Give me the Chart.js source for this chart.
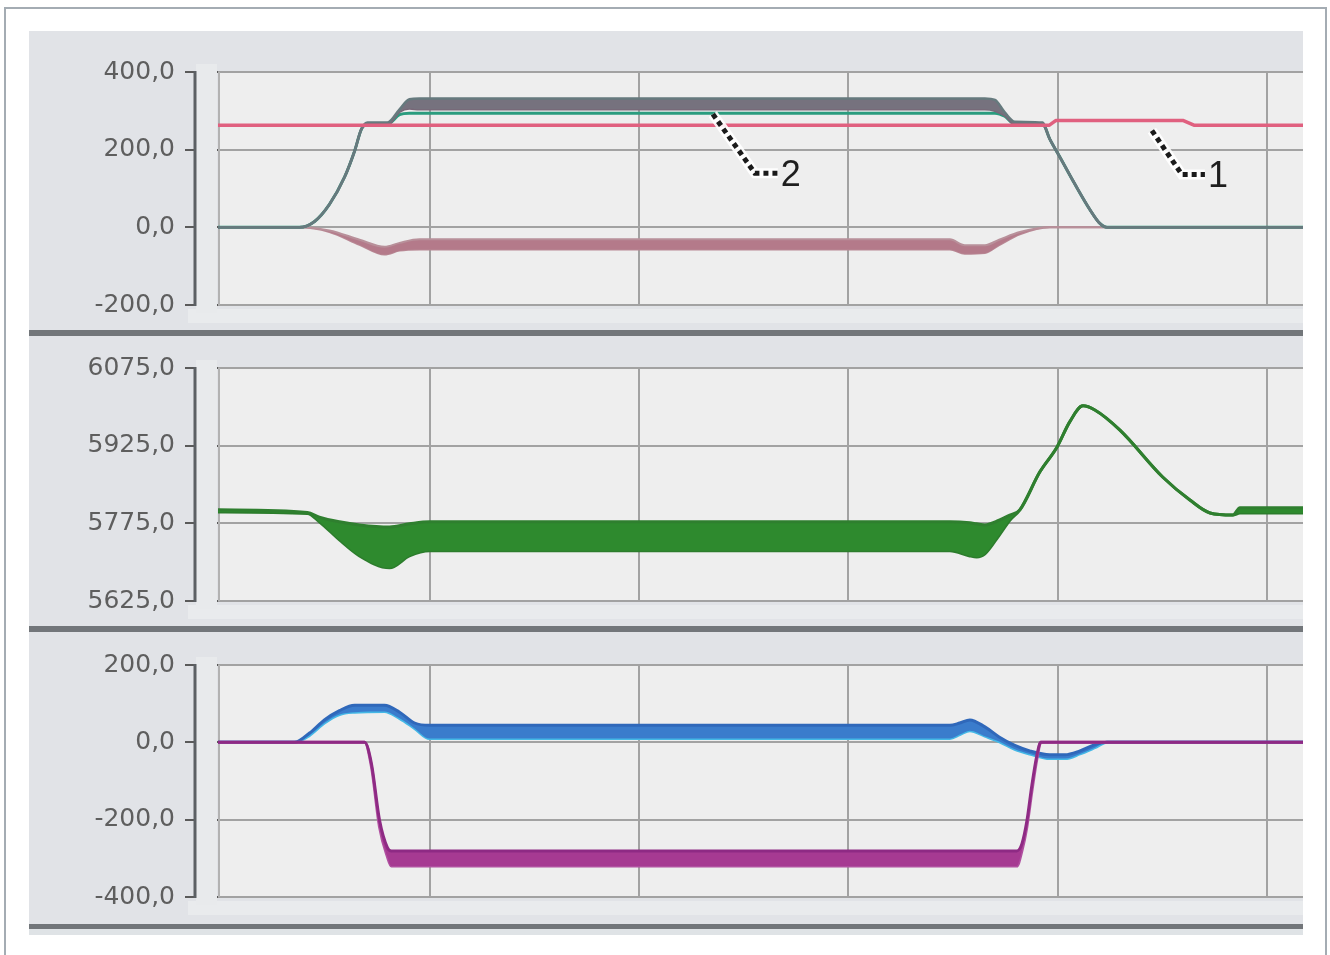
<!DOCTYPE html>
<html><head><meta charset="utf-8">
<script src="https://cdn.jsdelivr.net/npm/chart.js@4.4.1/dist/chart.umd.min.js"></script>
<style>
html,body{margin:0;padding:0;background:#fff;}
body{width:1330px;height:955px;position:relative;overflow:hidden;}
#frame{position:absolute;left:4px;top:7px;width:1323px;height:960px;border:2px solid #a4acb3;box-sizing:border-box;}
.sep{position:absolute;left:29px;width:1274px;background:#72767a;}
.lite{position:absolute;left:29px;width:1274px;background:#dfe3e6;}
canvas{position:absolute;left:29px;}
</style></head><body>
<div id="frame"></div>
<canvas id="c1" width="1274" height="299" style="top:31px"></canvas>
<div class="sep" style="top:330px;height:6px"></div>
<canvas id="c2" width="1274" height="290" style="top:336px"></canvas>
<div class="sep" style="top:626px;height:6px"></div>
<canvas id="c3" width="1274" height="292" style="top:632px"></canvas>
<div class="sep" style="top:924px;height:5px"></div>
<div class="lite" style="top:929px;height:6px"></div>
<script>
// ---------- axes ----------
const xMin = -0.01, xMax = 5.171;
const xGrid = [1, 2, 3, 4, 5];
const p1Ticks = [-200, 0, 200, 400];
const p2Ticks = [5625, 5775, 5925, 6075];
const p3Ticks = [-400, -200, 0, 200];

// ---------- panel 1 ----------
const pinkT = [-0.01, 3.96, 3.99, 4.60, 4.65, 5.171];
const pinkV = [263, 263, 275, 275, 263, 263];

const speedT  = [-0.01, 0.379, 0.451, 0.522, 0.594, 0.642, 0.675, 0.704, 0.799, 0.857, 0.904, 0.952, 3.485, 3.532, 3.580, 3.652, 3.700, 3.747, 3.795, 3.928, 3.962, 4.010, 4.082, 4.153, 4.201, 4.235, 5.171];
const speedHi = [0, 0, 15, 59, 129, 196, 253, 270, 270, 304, 330, 332, 332, 332, 332, 332, 328, 296, 272, 270, 227, 181, 111, 46, 10, 0, 0];
const speedLo = [0, 0, 15, 59, 129, 196, 253, 264, 264, 298, 306, 304, 304, 304, 304, 304, 300, 288, 266, 264, 227, 181, 111, 46, 10, 0, 0];
const setV    = [0, 0, 15, 59, 129, 196, 253, 266, 266, 290, 294, 294, 294, 294, 294, 294, 294, 286, 266, 266, 227, 181, 111, 46, 10, 0, 0];

const torqT  = [-0.01, 0.379, 0.522, 0.666, 0.785, 0.857, 0.952, 3.485, 3.556, 3.652, 3.720, 3.819, 3.962, 5.171];
const torqHi = [0, 0, -8, -32, -50, -40, -31, -31, -46, -46, -32, -12, 0, 0];
const torqLo = [0, 0, -12, -45, -70, -60, -57, -57, -68, -66, -46, -18, 0, 0];

// ---------- panel 2 ----------
const greenT  = [-0.01, 0.417, 0.474, 0.570, 0.666, 0.809, 0.904, 1.000, 3.485, 3.580, 3.613, 3.652, 3.720, 3.771, 3.819, 3.914, 3.996, 4.057, 4.120, 4.177, 4.297, 4.502, 4.631, 4.727, 4.836, 4.870, 5.171];
const greenHi = [5801, 5796, 5787, 5778, 5772, 5768, 5774, 5778, 5778, 5776, 5774, 5772, 5781, 5791, 5801, 5874, 5922, 5971, 6002, 5994, 5955, 5864, 5820, 5795, 5791, 5805, 5805];
const greenLo = [5797, 5794, 5778, 5743, 5712, 5689, 5712, 5722, 5722, 5712, 5710, 5716, 5752, 5781, 5801, 5874, 5922, 5971, 6002, 5994, 5955, 5864, 5820, 5795, 5791, 5795, 5795];

// ---------- panel 3 ----------
const blueT  = [-0.01, 0.355, 0.427, 0.498, 0.570, 0.642, 0.785, 0.857, 0.929, 1.000, 3.485, 3.532, 3.580, 3.652, 3.720, 3.795, 3.866, 3.962, 4.034, 4.106, 4.177, 4.235, 5.171];
const blueHi = [0, 0, 24, 58, 82, 96, 96, 78, 50, 44, 44, 50, 58, 40, 14, -8, -22, -32, -32, -22, -6, 0, 0];
const blueLo = [0, 0, 18, 50, 72, 78, 80, 62, 36, 10, 10, 20, 30, 16, 2, -18, -30, -42, -42, -30, -14, 0, 0];

const magT  = [-0.01, 0.690, 0.723, 0.761, 0.799, 0.818, 3.804, 3.829, 3.852, 3.876, 3.900, 3.919, 5.171];
const magHi = [0, 0, -56, -200, -272, -281, -281, -262, -205, -112, -34, 0, 0];
const magLo = [0, 0, -64, -218, -296, -320, -320, -280, -220, -128, -44, 0, 0];

// ---------- annotations (anchor in data units) ----------
const annoLabels = ['2', '1'];
const annoT = [2.353, 4.440];
const annoV = [294, 275];

const pts = (T, V) => T.map((t, i) => ({x: t, y: V[i]}));
const fmt = v => v.toFixed(1).replace('.', ',');

const panelDeco = {
  id: 'panelDeco',
  beforeDraw(chart) {
    const {ctx, chartArea: a} = chart;
    ctx.save();
    ctx.fillStyle = '#e1e3e7';
    ctx.fillRect(0, 0, chart.width, chart.height);
    ctx.fillStyle = '#e9ebed';
    ctx.fillRect(a.left - 30, a.bottom + 4, a.right - a.left + 30, 14);
    ctx.fillStyle = '#eeeeee';
    ctx.fillRect(a.left, a.top, a.right - a.left, a.bottom - a.top);
    ctx.restore();
  },
  beforeDatasetsDraw(chart) {
    const {ctx, chartArea: a} = chart;
    ctx.save();
    ctx.fillStyle = '#e8eaec';
    ctx.fillRect(a.left - 22, a.top - 8, 21, a.bottom - a.top + 16);
    ctx.strokeStyle = '#5c6064';
    ctx.lineWidth = 3;
    ctx.beginPath();
    ctx.moveTo(a.left - 23, a.top - 1);
    ctx.lineTo(a.left - 23, a.bottom + 1);
    ctx.stroke();
    ctx.strokeStyle = '#b2b2b2';
    ctx.lineWidth = 2;
    ctx.beginPath();
    ctx.moveTo(a.left + 1, a.top);
    ctx.lineTo(a.left + 1, a.bottom);
    ctx.stroke();
    ctx.restore();
  }
};

const leaders = {
  id: 'leaders',
  afterDatasetsDraw(chart) {
    const {ctx} = chart;
    const xs = chart.scales.x, ys = chart.scales.y;
    const shapes = [
      [[0, 1], [42, 60], [65, 60], [68]],
      [[2, 10], [32, 54], [55, 54], [58]]
    ];
    ctx.save();
    annoLabels.forEach((lab, i) => {
      const px = xs.getPixelForValue(annoT[i]);
      const py = ys.getPixelForValue(annoV[i]);
      const s = shapes[i];
      const path = () => {
        ctx.beginPath();
        ctx.moveTo(px + s[0][0], py + s[0][1]);
        ctx.lineTo(px + s[1][0], py + s[1][1]);
        ctx.lineTo(px + s[2][0], py + s[2][1]);
      };
      ctx.setLineDash([]);
      ctx.strokeStyle = 'rgba(255,255,255,0.9)';
      ctx.lineWidth = 10;
      ctx.lineJoin = 'miter';
      path(); ctx.stroke();
      ctx.setLineDash([5, 4]);
      ctx.strokeStyle = '#1b1b1b';
      ctx.lineWidth = 5;
      path(); ctx.stroke();
      ctx.setLineDash([]);
      ctx.fillStyle = '#1e1e1e';
      ctx.font = '36px "Liberation Sans", Arial, sans-serif';
      ctx.textBaseline = 'middle';
      ctx.textAlign = 'left';
      ctx.fillText(lab, px + s[3][0], py + s[1][1] + 3);
    });
    ctx.restore();
  }
};

function band(T, hi, lo, edgeHi, edgeLo, fillC, w) {
  return [
    {data: pts(T, hi), borderColor: edgeHi, borderWidth: w, backgroundColor: fillC, fill: '+1', cubicInterpolationMode: 'monotone'},
    {data: pts(T, lo), borderColor: edgeLo, borderWidth: w, fill: false, cubicInterpolationMode: 'monotone'}
  ];
}

function makeChart(id, yTicks, datasets, padTop, padBottom, extra) {
  return new Chart(document.getElementById(id), {
    type: 'line',
    data: {datasets},
    options: {
      responsive: false, animation: false, devicePixelRatio: 1,
      layout: {padding: {top: padTop, bottom: padBottom, left: 0, right: 0}},
      plugins: {legend: {display: false}, tooltip: {enabled: false}},
      elements: {point: {radius: 0}, line: {tension: 0, borderJoinStyle: 'round'}},
      scales: {
        x: {
          type: 'linear', min: xMin, max: xMax,
          afterBuildTicks: s => { s.ticks = xGrid.map(v => ({value: v})); },
          afterFit: s => { s.height = 0; },
          ticks: {display: false},
          grid: {color: '#a2a2a2', lineWidth: 2, drawTicks: false},
          border: {display: false}
        },
        y: {
          min: yTicks[0], max: yTicks[yTicks.length - 1],
          afterBuildTicks: s => { s.ticks = yTicks.map(v => ({value: v})); },
          afterFit: s => { s.width = 189; },
          ticks: {padding: 10, color: '#5e5e5e', font: {family: '"DejaVu Sans"', size: 25}, callback: v => fmt(v), autoSkip: false},
          grid: {color: '#a2a2a2', lineWidth: 2, tickLength: 33, tickColor: '#5a5a5a', tickWidth: 2},
          border: {display: false}
        }
      }
    },
    plugins: [panelDeco].concat(extra || [])
  });
}

makeChart('c1', p1Ticks, [
  {data: pts(pinkT, pinkV), borderColor: '#e0607f', borderWidth: 3.5, fill: false},
  ...band(speedT, speedHi, speedLo, '#667a7e', '#786878', '#76727e', 2.5),
  {data: pts(speedT, setV), borderColor: '#2a9c7e', borderWidth: 3, fill: false, cubicInterpolationMode: 'monotone'},
  ...band(torqT, torqHi, torqLo, '#b8909a', '#b88894', '#b47a8a', 2)
], 41, 25, [leaders]);

makeChart('c2', p2Ticks, [
  ...band(greenT, greenHi, greenLo, '#2f7f2f', '#2c7c2c', '#2e8a2e', 3)
], 32, 25);

makeChart('c3', p3Ticks, [
  ...band(magT, magHi, magLo, '#8e2a84', '#b050a0', '#a63a92', 3),
  ...band(blueT, blueHi, blueLo, '#2f68ba', '#45b8e6', '#3a7ccc', 3)
], 33, 27);
</script>
</body></html>
